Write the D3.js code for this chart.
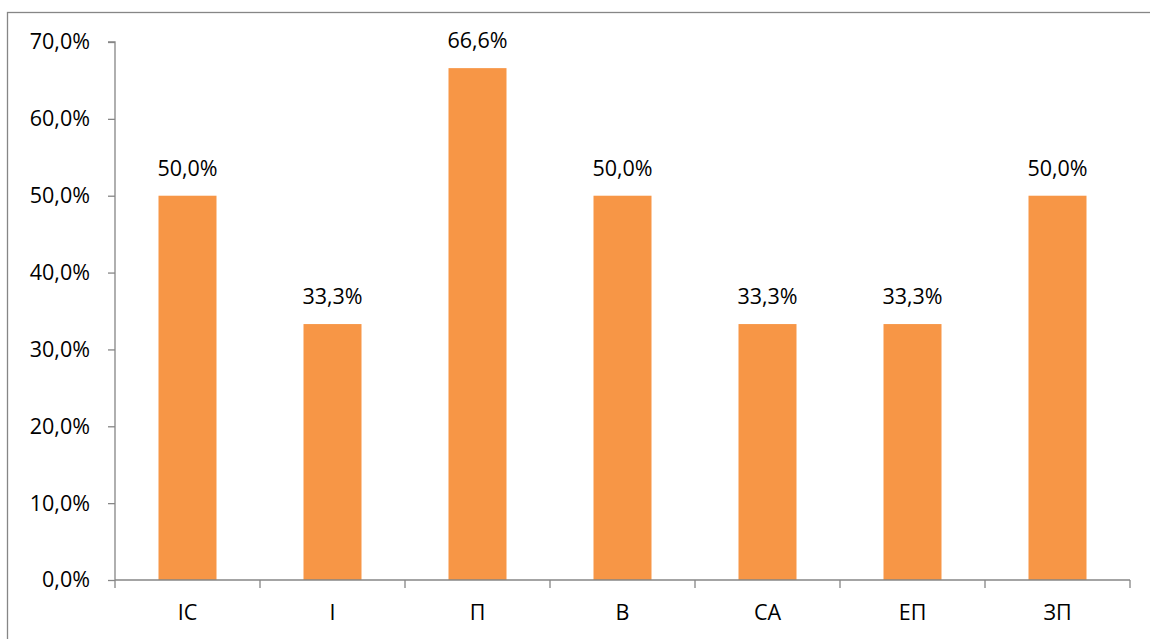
<!DOCTYPE html>
<html>
<head>
<meta charset="utf-8">
<script src="https://cdn.jsdelivr.net/npm/d3@7"></script>
<style>
  body { margin: 0; background: #fff; }
  text { font-family: "Open Sans", "Liberation Sans", sans-serif; }
</style>
</head>
<body>
<div id="bar_chart"></div>
<script>
// data
var categories = ["ІС", "І", "П", "В", "СА", "ЕП", "ЗП"];
var values = [50.0, 33.3, 66.6, 50.0, 33.3, 33.3, 50.0];
var yTicks = [0, 10, 20, 30, 40, 50, 60, 70];

var W = 1150, H = 639;
var margin = {top: 42, right: 20, bottom: 59, left: 115},
    width = 1130 - margin.left,
    height = 580 - margin.top;

var root = d3.select("#bar_chart")
  .append("svg")
    .attr("width", W)
    .attr("height", H);

// chart frame
root.append("rect")
  .attr("x", 7.5).attr("y", 12.5)
  .attr("width", 1160).attr("height", 700)
  .attr("fill", "none")
  .attr("stroke", "#868686")
  .attr("stroke-width", 1.3);

var svg = root.append("g")
  .attr("transform", "translate(" + margin.left + "," + margin.top + ")");

var fmt = function(v) { return v.toFixed(1).replace(".", ",") + "%"; };
var fs = 21.5;

var x = d3.scaleBand()
  .domain(categories)
  .range([0, width])
  .paddingInner(0)
  .paddingOuter(0);

var y = d3.scaleLinear()
  .domain([0, 70])
  .range([height, 0]);

// y axis
var yAxis = svg.append("g")
  .call(d3.axisLeft(y).tickValues(yTicks).tickSize(7).tickPadding(18).tickFormat(fmt));
yAxis.selectAll("text").attr("font-size", fs).attr("fill", "#000");
yAxis.selectAll("line, path").attr("stroke", "#868686").attr("stroke-width", 1.3);
yAxis.select(".domain").attr("d", "M-7," + y(70) + "H0V" + y(0));

// bars
var bw = x.bandwidth() * 0.4;
svg.append("g")
  .selectAll("rect")
  .data(values)
  .enter()
  .append("rect")
    .attr("x", (d, i) => x(categories[i]) + (x.bandwidth() - bw) / 2)
    .attr("y", d => y(d))
    .attr("width", bw)
    .attr("height", d => y(0) - y(d))
    .attr("fill", "#F79646");

// value labels
svg.append("g")
  .selectAll("text")
  .data(values)
  .enter()
  .append("text")
    .attr("x", (d, i) => x(categories[i]) + x.bandwidth() / 2)
    .attr("y", d => y(d) - 20)
    .attr("text-anchor", "middle")
    .attr("font-size", fs)
    .attr("fill", "#000")
    .text(d => fmt(d));

// x axis
var xAxis = svg.append("g")
  .attr("transform", "translate(0," + height + ")")
  .call(d3.axisBottom(x).tickSize(0).tickPadding(25));
xAxis.selectAll("text").attr("font-size", fs).attr("fill", "#000");
xAxis.select(".domain").attr("stroke", "#868686").attr("stroke-width", 1.3)
  .attr("d", "M0,0H" + width);

// category separators
xAxis.append("g")
  .selectAll("line")
  .data(categories.concat(["end"]))
  .enter()
  .append("line")
    .attr("x1", (d, i) => i * x.step())
    .attr("x2", (d, i) => i * x.step())
    .attr("y1", 0)
    .attr("y2", 8)
    .attr("stroke", "#868686")
    .attr("stroke-width", 1.3);
</script>
</body>
</html>
